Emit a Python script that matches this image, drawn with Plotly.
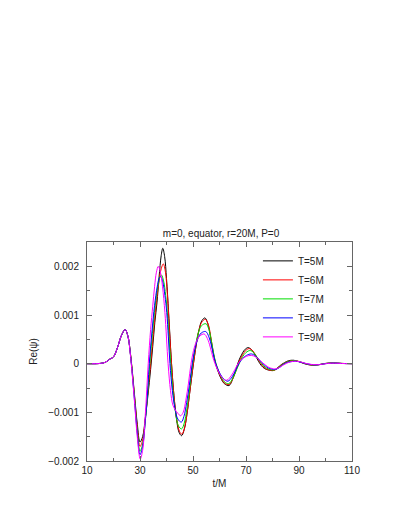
"""Re(psi) waveforms at r=20M on the equator for m=0, P=0, for several pulse widths T."""

import plotly.graph_objects as go

# Re(psi) in units of 1e-3; t in units of M
t_5m = [10, 15, 17, 18.5, 20, 21.5, 23, 24.4, 25.5, 26.3, 27, 28, 29, 30, 31, 32, 33, 34, 34.8, 35.6,
        36.4, 37.2, 38, 38.6, 39.3, 40, 40.8, 41.9, 42.8, 43.8, 44.8, 45.7, 46.7, 47.7, 48.7, 49.5, 50.3, 51.3, 52.3, 53.3,
        54.5, 55.6, 56.6, 57.5, 58.5, 59.6, 60.7, 61.8, 63.6, 65.1, 66.2, 67.2, 68.3, 69.4, 70.8, 72.2, 73.5, 74.7, 75.8, 77,
        78.4, 80.3, 82, 83.3, 84.5, 86, 88, 90, 92, 94, 96, 98, 100, 103, 106, 110]
re_5m = [0, 0.005, 0.03, 0.09, 0.14, 0.33, 0.58, 0.70, 0.55, 0.25, -0.10, -0.68, -1.25, -1.61, -1.50, -1.12, -0.65, -0.12, 0.35, 0.85,
         1.25, 1.78, 2.22, 2.37, 2.20, 1.75, 1.05, 0.0, -0.65, -1.15, -1.42, -1.48, -1.35, -1.05, -0.62, -0.28, 0.05, 0.42, 0.70, 0.88,
         0.94, 0.82, 0.55, 0.25, 0.0, -0.18, -0.32, -0.41, -0.45, -0.30, -0.12, 0.05, 0.18, 0.28, 0.33, 0.28, 0.17, 0.05, -0.04, -0.10,
         -0.13, -0.14, -0.08, -0.02, 0.02, 0.06, 0.07, 0.04, 0.0, -0.025, -0.03, -0.015, 0.005, 0.015, 0.005, 0]

t_6m = [10, 15, 17, 18.5, 20, 21.5, 23, 24.4, 25.5, 26.3, 27, 28, 29, 30, 31, 32, 33, 34, 35, 36,
        37, 38, 38.8, 39.6, 40.3, 41.0, 41.9, 42.9, 43.9, 44.9, 45.8, 46.8, 47.8, 48.8, 49.6, 50.3, 51.3, 52.3, 53.4, 54.7,
        55.8, 56.8, 57.7, 58.6, 59.7, 60.8, 61.9, 63.6, 65.1, 66.3, 67.3, 68.5, 69.7, 71.2, 72.6, 73.8, 75, 76.2, 77.4, 78.7,
        80.5, 82.2, 83.5, 84.7, 86.2, 88.3, 90.3, 92.3, 94.2, 96.2, 98.2, 100.2, 103, 106, 110]
re_6m = [0, 0.005, 0.03, 0.09, 0.14, 0.33, 0.58, 0.70, 0.55, 0.25, -0.12, -0.72, -1.32, -1.70, -1.57, -1.13, -0.58, 0.0, 0.60, 1.18,
         1.62, 1.95, 2.05, 1.88, 1.45, 0.80, 0.0, -0.70, -1.15, -1.39, -1.45, -1.32, -1.00, -0.58, -0.22, 0.05, 0.42, 0.70, 0.86, 0.91,
         0.80, 0.52, 0.22, 0.0, -0.18, -0.31, -0.40, -0.43, -0.30, -0.13, 0.03, 0.16, 0.26, 0.31, 0.26, 0.16, 0.05, -0.04, -0.10, -0.13,
         -0.14, -0.08, -0.02, 0.02, 0.05, 0.065, 0.04, 0.0, -0.025, -0.03, -0.015, 0.005, 0.015, 0.005, 0]

t_7m = [10, 15, 17, 18.5, 20, 21.5, 23, 24.4, 25.5, 26.3, 27, 28, 29, 30, 31, 32, 33, 33.7, 34.7, 35.7,
        36.7, 37.5, 38.1, 38.9, 39.7, 40.4, 41.0, 41.6, 42.5, 43.5, 44.5, 45.7, 46.7, 47.7, 48.7, 49.4, 50.0, 51, 52, 53.2,
        54.9, 56, 57, 57.9, 58.7, 59.8, 60.9, 62, 63.5, 65.1, 66.4, 67.5, 68.7, 70, 71.6, 73, 74.2, 75.4, 76.6, 77.8,
        79, 80.8, 82.4, 83.7, 85, 86.5, 88.5, 90.5, 92.5, 94.5, 96.4, 98.4, 100.4, 103.2, 106, 110]
re_7m = [0, 0.005, 0.03, 0.09, 0.14, 0.33, 0.58, 0.70, 0.55, 0.24, -0.14, -0.76, -1.40, -1.80, -1.65, -1.17, -0.55, 0.0, 0.62, 1.18,
         1.58, 1.78, 1.82, 1.70, 1.40, 1.0, 0.5, 0.0, -0.60, -1.03, -1.28, -1.34, -1.22, -0.92, -0.52, -0.20, 0.05, 0.38, 0.63, 0.78,
         0.82, 0.70, 0.45, 0.18, 0.0, -0.17, -0.30, -0.38, -0.41, -0.29, -0.13, 0.01, 0.14, 0.23, 0.27, 0.22, 0.13, 0.04, -0.04, -0.09,
         -0.12, -0.13, -0.08, -0.02, 0.02, 0.05, 0.06, 0.035, 0.0, -0.022, -0.028, -0.014, 0.005, 0.013, 0.005, 0]

t_8m = [10, 15, 17, 18.5, 20, 21.5, 23, 24.4, 25.5, 26.3, 27, 28, 29, 30, 31, 32, 33, 33.5, 34.5, 35.5,
        36.5, 37.2, 37.8, 38.6, 39.4, 40.1, 40.7, 41.3, 42.2, 43.2, 44.3, 45.6, 46.6, 47.6, 48.6, 49.3, 49.8, 50.8, 51.9, 53.1,
        54.8, 56, 57, 57.9, 58.6, 59.7, 60.8, 61.9, 63.2, 64.8, 66.2, 67.3, 68.6, 70.2, 72, 73.5, 74.8, 76, 77.2, 78.5,
        79.7, 81, 82.6, 84, 85.3, 86.8, 88.7, 90.7, 92.7, 94.7, 96.6, 98.6, 100.6, 103.4, 106, 110]
re_8m = [0, 0.005, 0.03, 0.09, 0.14, 0.33, 0.58, 0.70, 0.55, 0.23, -0.16, -0.80, -1.45, -1.87, -1.70, -1.18, -0.45, 0.0, 0.65, 1.20,
         1.58, 1.75, 1.79, 1.68, 1.40, 1.05, 0.55, 0.0, -0.55, -0.92, -1.14, -1.20, -1.08, -0.80, -0.45, -0.17, 0.03, 0.32, 0.52, 0.63,
         0.66, 0.55, 0.36, 0.14, 0.0, -0.15, -0.26, -0.33, -0.36, -0.27, -0.12, 0.0, 0.10, 0.17, 0.20, 0.16, 0.09, 0.02, -0.04, -0.09,
         -0.11, -0.12, -0.08, -0.02, 0.02, 0.04, 0.05, 0.03, 0.0, -0.02, -0.025, -0.012, 0.004, 0.012, 0.004, 0]

t_9m = [10, 15, 17, 18.5, 20, 21.5, 23, 24.4, 25.5, 26.3, 27, 28, 29, 30.1, 31, 32, 33.1, 34, 34.8, 35.5,
        36.2, 36.9, 37.7, 38.5, 39.4, 40.6, 41.5, 42.4, 43.3, 44.3, 45.3, 46.3, 47.3, 48.3, 49.2, 50.2, 51.3, 52.6, 54.2, 55.4,
        56.5, 57.5, 58.3, 59.4, 60.5, 61.6, 62.8, 64.4, 65.8, 67, 68.4, 70.1, 72, 73.6, 75, 76.2, 77.4, 78.7, 79.9, 81,
        82.6, 84, 85.4, 87, 89, 91, 93, 95, 96.8, 98.8, 100.8, 103.5, 106, 110]
re_9m = [0, 0.005, 0.03, 0.09, 0.14, 0.33, 0.58, 0.70, 0.55, 0.22, -0.18, -0.84, -1.52, -1.96, -1.78, -1.05, 0.0, 0.70, 1.18, 1.58,
         1.88, 2.00, 1.88, 1.58, 1.05, 0.0, -0.55, -0.85, -0.95, -1.02, -1.07, -1.0, -0.75, -0.40, -0.02, 0.27, 0.46, 0.57, 0.61, 0.52,
         0.34, 0.13, 0.0, -0.14, -0.25, -0.32, -0.34, -0.25, -0.12, 0.0, 0.09, 0.15, 0.17, 0.14, 0.08, 0.02, -0.03, -0.08, -0.10, -0.11,
         -0.08, -0.03, 0.01, 0.04, 0.05, 0.03, 0.0, -0.018, -0.022, -0.011, 0.004, 0.011, 0.004, 0]

series_names = ["T=5M", "T=6M", "T=7M", "T=8M", "T=9M"]
series_t = [t_5m, t_6m, t_7m, t_8m, t_9m]
series_re = [re_5m, re_6m, re_7m, re_8m, re_9m]
series_colors = ["#000000", "#ff0000", "#00dd00", "#0000ff", "#ff00ff"]

# y ticks (data is in units of 1e-3)
y_tickvals = [-2, -1, 0, 1, 2]
y_ticktext = ["\u22120.002", "\u22120.001", "0", "0.001", "0.002"]

FONT = "Liberation Sans, Arial, sans-serif"

fig = go.Figure()
for name, t, re, color in zip(series_names, series_t, series_re, series_colors):
    fig.add_trace(
        go.Scatter(
            x=t,
            y=re,
            name=name,
            mode="lines",
            line={"color": color, "width": 1, "shape": "spline", "smoothing": 1},
        )
    )

axis_style = {
    "showline": True,
    "linecolor": "#666666",
    "linewidth": 1,
    "mirror": "ticks",
    "ticks": "inside",
    "ticklen": 5,
    "tickcolor": "#666666",
    "showgrid": False,
    "zeroline": False,
    "tickfont": {"size": 10, "color": "#222222"},
}

# the page body adds an 8px offset, so margins are trimmed on the left/top
fig.update_layout(
    width=402,
    height=520,
    margin={"l": 79, "r": 58, "t": 234, "b": 67},
    paper_bgcolor="white",
    plot_bgcolor="white",
    font={"family": FONT, "size": 10, "color": "#222222"},
    title={
        "text": "m=0, equator, r=20M, P=0",
        "x": 0.53,
        "xanchor": "center",
        "y": 1 - 225 / 520,
        "yanchor": "middle",
        "yref": "container",
        "font": {"size": 10},
    },
    xaxis={
        **axis_style,
        "range": [10, 110],
        "tick0": 10,
        "dtick": 20,
        "minor": {"dtick": 10, "ticks": "inside", "ticklen": 3, "tickcolor": "#666666"},
        "title": {"text": "t/M", "font": {"size": 10}, "standoff": 4},
    },
    yaxis={
        **axis_style,
        "range": [-2, 2.5],
        "tickvals": y_tickvals,
        "ticktext": y_ticktext,
        "ticklabelstandoff": 5,
        "minor": {"dtick": 0.5, "ticks": "inside", "ticklen": 3, "tickcolor": "#666666"},
        "title": {"text": "Re(\u03c8)", "font": {"size": 10}, "standoff": 8},
    },
    legend={
        "x": 0.645,
        "xanchor": "left",
        "y": 0.98,
        "yanchor": "top",
        "bgcolor": "rgba(0,0,0,0)",
        "font": {"size": 10},
        "tracegroupgap": 0,
    },
    showlegend=True,
)

fig.write_html("out.html")
